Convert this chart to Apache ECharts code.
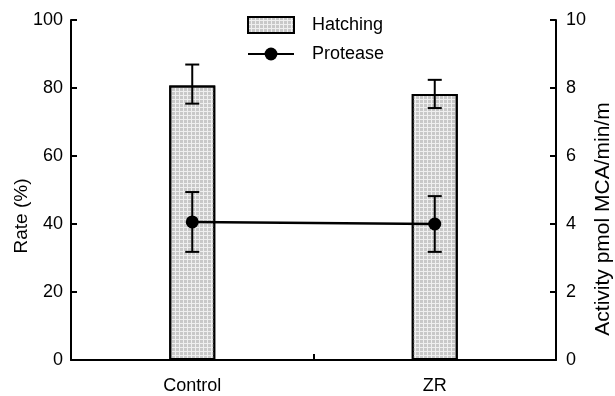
<!DOCTYPE html>
<html>
<head>
<meta charset="utf-8">
<script src="https://cdn.jsdelivr.net/npm/echarts@6/dist/echarts.min.js"></script>
</head>
<body style="margin:0;background:#fff">
<div id="main" style="width:615px;height:396px"></div>
<script>
var myChart = echarts.init(document.getElementById('main'));

// data
var groups = ['Control', 'ZR'];
var hatching = [80.7, 78.2];      // rate (%)
var hatchingLow = [75.4, 74.1];
var hatchingHigh = [86.9, 82.4];
var protease = [4.06, 4.0];       // activity
var proteaseLow = [3.18, 3.18];
var proteaseHigh = [4.94, 4.82];

var font = 'Liberation Sans, Arial, sans-serif';

// error bar: vertical line with caps
function errorBar(params, api) {
    var x = api.value(0);
    var lo = api.coord([x, api.value(1)]);
    var hi = api.coord([x, api.value(2)]);
    var half = 7;
    var style = { stroke: '#000', lineWidth: 2 };
    return {
        type: 'group',
        children: [
            { type: 'line', shape: { x1: lo[0], y1: lo[1], x2: hi[0], y2: hi[1] }, style: style },
            { type: 'line', shape: { x1: lo[0] - half, y1: lo[1], x2: lo[0] + half, y2: lo[1] }, style: style },
            { type: 'line', shape: { x1: hi[0] - half, y1: hi[1], x2: hi[0] + half, y2: hi[1] }, style: style }
        ]
    };
}

var hatchErrData = [];
var protErrData = [];
for (var i = 0; i < groups.length; i++) {
    hatchErrData.push([i, hatchingLow[i], hatchingHigh[i]]);
    protErrData.push([i, proteaseLow[i], proteaseHigh[i]]);
}

var axisLine = { show: true, lineStyle: { color: '#000', width: 2 } };
var axisTick = { show: true, inside: true, length: 6, lineStyle: { color: '#000', width: 2 } };

var option = {
    backgroundColor: '#fff',
    animation: false,
    textStyle: { fontFamily: font },
    grid: { left: 71, right: 59, top: 20, bottom: 36, outerBoundsMode: 'none', containLabel: false },
    legend: {
        orient: 'vertical',
        left: 242,
        top: 11,
        itemWidth: 46,
        itemHeight: 16,
        itemGap: 11,
        data: [{ name: 'Hatching', icon: 'rect' }, { name: 'Protease' }],
        textStyle: { color: '#000', fontSize: 18, fontFamily: font, padding: [0, 0, 0, 13] }
    },
    xAxis: {
        type: 'category',
        data: groups,
        boundaryGap: true,
        axisLine: axisLine,
        axisTick: axisTick,
        axisLabel: { color: '#000', fontSize: 18, margin: 17, fontFamily: font }
    },
    yAxis: [{
        type: 'value',
        min: 0, max: 100, interval: 20,
        name: 'Rate (%)',
        nameLocation: 'middle',
        nameGap: 40,
        nameRotate: 90,
        nameMoveOverlap: false,
        nameTextStyle: { color: '#000', fontSize: 19, fontFamily: font, padding: [0, 52, 0, 0] },
        axisLine: axisLine,
        axisTick: axisTick,
        splitLine: { show: false },
        axisLabel: { color: '#000', fontSize: 18, margin: 8, fontFamily: font }
    }, {
        type: 'value',
        min: 0, max: 10, interval: 2,
        name: 'Activity pmol MCA/min/m',
        nameLocation: 'middle',
        nameGap: 37,
        nameRotate: 90,
        nameMoveOverlap: false,
        nameTextStyle: { color: '#000', fontSize: 21, fontFamily: font, padding: [0, 58, 0, 0] },
        axisLine: axisLine,
        axisTick: axisTick,
        splitLine: { show: false },
        axisLabel: { color: '#000', fontSize: 18, margin: 10, fontFamily: font }
    }],
    series: [{
        name: 'Hatching',
        type: 'bar',
        data: hatching,
        barWidth: 46,
        itemStyle: {
            color: '#efefef',
            borderColor: '#000',
            borderWidth: 2,
            decal: {
                symbol: 'rect',
                symbolSize: 1,
                color: '#c8c8c8',
                dashArrayX: [3, 1],
                dashArrayY: [3, 1],
                rotation: 0
            }
        }
    }, {
        name: 'hatchErr',
        type: 'custom',
        renderItem: errorBar,
        data: hatchErrData,
        z: 3
    }, {
        name: 'protErr',
        type: 'custom',
        yAxisIndex: 1,
        renderItem: errorBar,
        data: protErrData,
        z: 3
    }, {
        name: 'Protease',
        type: 'line',
        yAxisIndex: 1,
        data: protease,
        symbol: 'circle',
        symbolSize: 13,
        lineStyle: { color: '#000', width: 2.5 },
        itemStyle: { color: '#000' },
        z: 4
    }]
};

myChart.setOption(option);
</script>
</body>
</html>
